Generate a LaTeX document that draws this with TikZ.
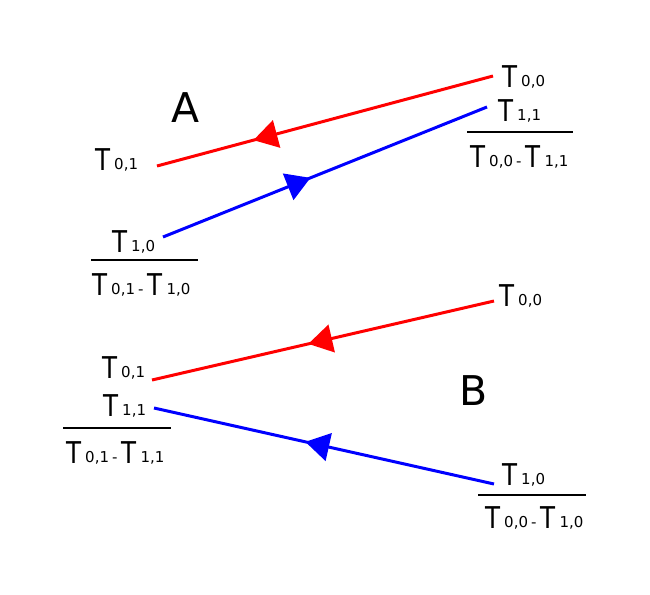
\documentclass[tikz,border=0pt]{standalone}
\usepackage{fontspec}
\usepackage{graphicx}
\setmainfont{DejaVu Sans}
\usetikzlibrary{arrows.meta,decorations.markings}
\newcommand{\smallsz}{\fontsize{15}{15}\selectfont}
\newcommand{\bigT}{\scalebox{0.82}[1]{T}}
\newcommand{\Tsub}[1]{\bigT\kern4pt\raisebox{1pt}{\smallsz #1}}
\newcommand{\Tden}[2]{\Tsub{#1}\kern3pt\raisebox{1pt}{\smallsz -}\kern4pt\Tsub{#2}}
\begin{document}
\begin{tikzpicture}[x=1pt,y=-1pt,
  lbl/.style={anchor=base west,inner sep=0pt,font=\fontsize{30}{33}\selectfont},
  biglbl/.style={anchor=base west,inner sep=0pt,font=\fontsize{41}{44}\selectfont},
  flow/.style={line width=3pt},
  fracline/.style={line width=1.4pt},
  midarrow/.style={postaction={decorate},decoration={markings,mark=at position #1 with {\arrow{Triangle[length=24pt,width=28pt]}}}}]
\path[use as bounding box] (0,0) rectangle (650,594);

% ---------- A ----------
\node[biglbl] (A) at (171,122) {A};
\node[lbl] (a00) at (502,87) {\Tsub{0,0}};
\node[lbl] (a11) at (498,121) {\Tsub{1,1}};
\node[lbl] (a0011) at (470,167) {\Tden{0,0}{1,1}};
\node[lbl] (a01) at (95,170) {\Tsub{0,1}};
\node[lbl] (a10) at (112,252) {\Tsub{1,0}};
\node[lbl] (a0110) at (92,295) {\Tden{0,1}{1,0}};
\coordinate (fa1s) at (467,132); \coordinate (fa1e) at (573,132);
\coordinate (fa2s) at (91,260);  \coordinate (fa2e) at (198,260);
\draw[fracline] (fa1s) -- (fa1e);
\draw[fracline] (fa2s) -- (fa2e);

\coordinate (ra1) at (493,76);  \coordinate (ra2) at (157,166);
\coordinate (ba1) at (163,237); \coordinate (ba2) at (487,107);
\draw[flow,red,midarrow=0.713] (ra1) -- (ra2);
\draw[flow,blue,midarrow=0.455] (ba1) -- (ba2);

% ---------- B ----------
\node[biglbl] (B) at (459,405) {B};
\node[lbl] (b00) at (499,306) {\Tsub{0,0}};
\node[lbl] (b10) at (502,485) {\Tsub{1,0}};
\node[lbl] (b0010) at (485,528) {\Tden{0,0}{1,0}};
\node[lbl] (b01) at (102,378) {\Tsub{0,1}};
\node[lbl] (b11) at (103,416) {\Tsub{1,1}};
\node[lbl] (b0111) at (66,463) {\Tden{0,1}{1,1}};
\coordinate (fb1s) at (478,495); \coordinate (fb1e) at (586,495);
\coordinate (fb2s) at (63,428);  \coordinate (fb2e) at (171,428);
\draw[fracline] (fb1s) -- (fb1e);
\draw[fracline] (fb2s) -- (fb2e);

\coordinate (rb1) at (494,301); \coordinate (rb2) at (152,380);
\coordinate (bb1) at (494,484); \coordinate (bb2) at (154,408);
\draw[flow,red,midarrow=0.543] (rb1) -- (rb2);
\draw[flow,blue,midarrow=0.555] (bb1) -- (bb2);
\end{tikzpicture}
\end{document}
